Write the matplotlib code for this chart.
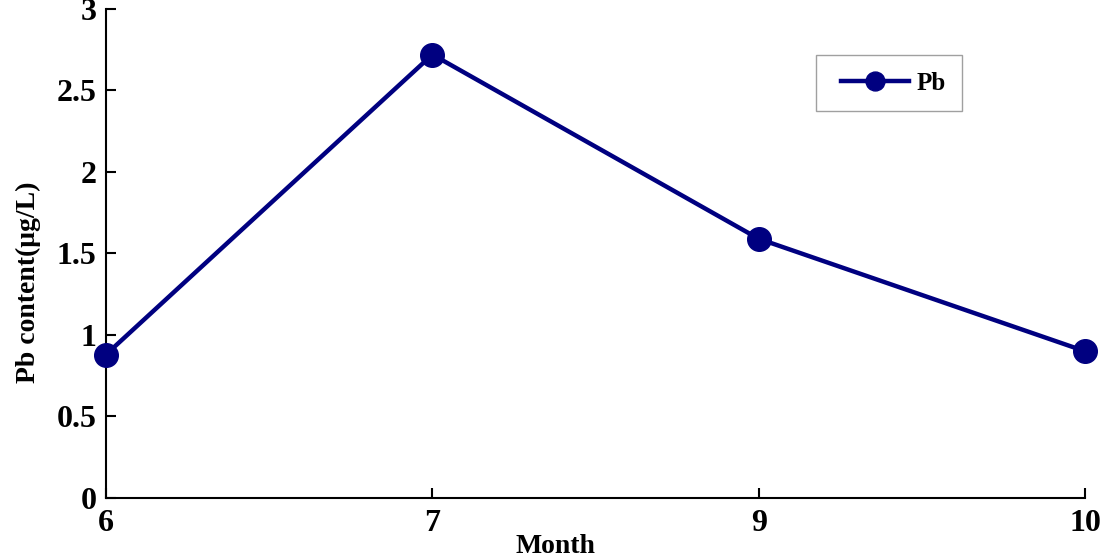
import matplotlib
matplotlib.use("Agg")
import matplotlib.pyplot as plt
from matplotlib.legend_handler import HandlerLine2D

months = ["6", "7", "9", "10"]
pb = [0.88, 2.72, 1.59, 0.90]
yticks = [0, 0.5, 1, 1.5, 2, 2.5, 3]
ytick_labels = ["0", "0.5", "1", "1.5", "2", "2.5", "3"]

plt.rcParams['font.family'] = ['Liberation Serif', 'DejaVu Serif']
plt.rcParams['font.weight'] = 'bold'

fig = plt.figure(figsize=(11, 5.57), dpi=100)
ax = fig.add_axes([0.0964, 0.106, 0.89, 0.878])
x = list(range(len(months)))
line, = ax.plot(x, pb, color='#000080', lw=3.2, marker='o', markersize=17, label='Pb', clip_on=False, zorder=5)
ax.set_xlim(0, len(months) - 1)
ax.set_ylim(0, 3)
ax.set_xticks(x)
ax.set_xticklabels(months)
ax.set_yticks(yticks)
ax.set_yticklabels(ytick_labels)
for s in ['top', 'right']:
    ax.spines[s].set_visible(False)
for s in ['left', 'bottom']:
    ax.spines[s].set_linewidth(1.5)
ax.tick_params(direction='in', length=7, width=1.5, labelsize=23)
ax.tick_params(axis='y', pad=7)
ax.tick_params(axis='x', pad=8)
for lab in ax.get_xticklabels() + ax.get_yticklabels():
    lab.set_fontweight('bold')
ax.set_xlabel('Month', fontsize=20, fontweight='bold')
ax.xaxis.set_label_coords((556 - 107) / (1085 - 107), -(546 - 498) / 488, transform=ax.transAxes)
ax.xaxis.label.set_va('center')
ax.set_ylabel('Pb content(μg/L)', fontsize=20, fontweight='bold')
ax.yaxis.set_label_coords(-(107 - 29) / (1085 - 107), (498 - 283) / 488, transform=ax.transAxes)
ax.yaxis.label.set_va('center')
leg = ax.legend(loc='upper left', bbox_to_anchor=((816 - 107) / 978, (498 - 56) / 488), frameon=True,
                fancybox=False, edgecolor='#888888', fontsize=18, handlelength=3.07, handletextpad=0.3,
                borderpad=0.66, markerscale=0.8, borderaxespad=0,
                handler_map={line: HandlerLine2D(xpad=0.35)})
leg.get_frame().set_linewidth(1.0)
for t in leg.get_texts():
    t.set_fontweight('bold')
fig.savefig('out.png', dpi=100)
